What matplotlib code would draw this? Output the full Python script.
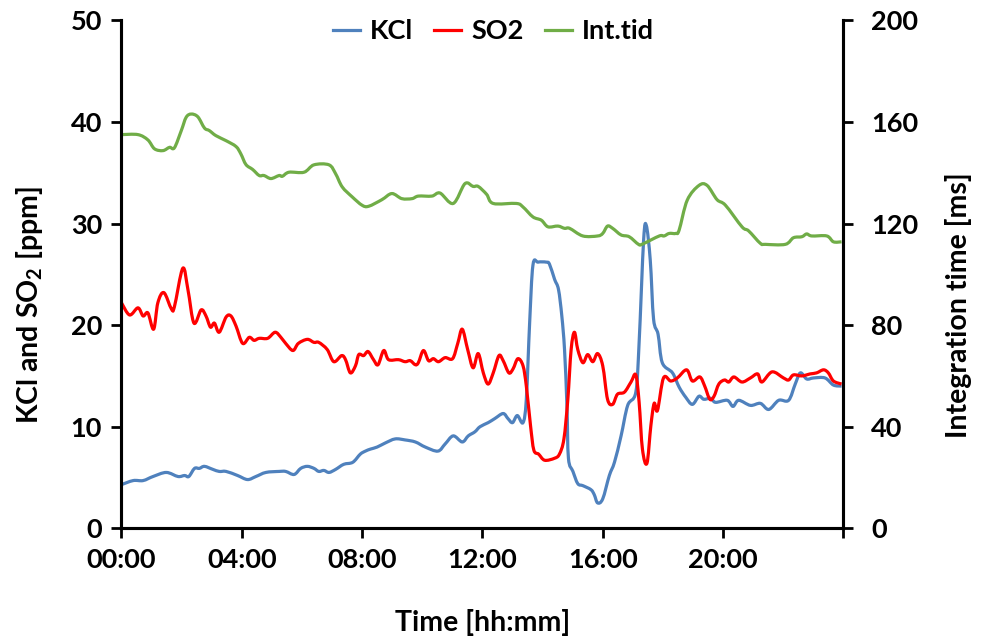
import numpy as np
import matplotlib
matplotlib.use("Agg")
import matplotlib.pyplot as plt
from matplotlib.path import Path
from matplotlib.patches import PathPatch
from matplotlib.lines import Line2D

plt.rcParams['font.family'] = ['Lato', 'DejaVu Sans']
plt.rcParams['font.weight'] = 'bold'
plt.rcParams['axes.labelweight'] = 'bold'
plt.rcParams['mathtext.fontset'] = 'custom'
plt.rcParams['mathtext.rm'] = 'Lato:bold'
plt.rcParams['mathtext.it'] = 'Lato:bold:italic'
plt.rcParams['mathtext.bf'] = 'Lato:bold'

# Time of day in hours, and the measured series
kcl_t = [0.00, 0.39, 0.72, 1.05, 1.49, 1.88, 2.10, 2.24, 2.43, 2.59, 2.76, 3.04, 3.25, 3.48,
         3.86, 4.19, 4.47, 4.80, 5.24, 5.46, 5.74, 5.96, 6.18, 6.40, 6.56, 6.73, 6.90, 7.12,
         7.39, 7.69, 7.94, 8.11, 8.28, 8.50, 8.77, 9.10, 9.43, 9.77, 10.10, 10.52, 10.76,
         11.03, 11.33, 11.53, 11.75, 11.92, 12.19, 12.41, 12.69, 12.85, 13.00, 13.16, 13.35,
         13.46, 13.57, 13.68, 13.85, 14.12, 14.23, 14.40, 14.53, 14.64, 14.73, 14.81, 14.86,
         15.01, 15.17, 15.34, 15.61, 15.72, 15.83, 16.00, 16.22, 16.39, 16.61, 16.83, 17.10,
         17.21, 17.36, 17.45, 17.58, 17.69, 17.84, 17.98, 18.32, 18.54, 18.76, 18.98, 19.20,
         19.36, 19.59, 19.75, 20.14, 20.33, 20.52, 20.91, 21.24, 21.52, 21.85, 22.18, 22.40,
         22.57, 22.78, 23.01, 23.39, 23.67, 23.94]
kcl = [4.3, 4.7, 4.7, 5.1, 5.5, 5.1, 5.2, 5.1, 5.9, 5.9, 6.1, 5.8, 5.6, 5.6,
       5.2, 4.8, 5.1, 5.5, 5.6, 5.6, 5.3, 5.9, 6.1, 5.9, 5.6, 5.7, 5.5, 5.8,
       6.3, 6.5, 7.3, 7.6, 7.8, 8.0, 8.4, 8.8, 8.7, 8.5, 8.0, 7.6, 8.3,
       9.1, 8.5, 9.1, 9.5, 10.0, 10.4, 10.8, 11.3, 10.8, 10.4, 11.1, 10.4,
       12.7, 20.2, 25.9, 26.2, 26.2, 26.0, 24.5, 23.5, 20.9, 17.6, 12.1, 6.9,
       5.6, 4.4, 4.2, 3.8, 3.3, 2.5, 2.9, 5.2, 6.5, 9.1, 12.1, 13.4,
       18.3, 28.4, 29.8, 26.4, 20.6, 19.1, 16.3, 15.3, 13.9, 12.9, 12.2, 13.0,
       12.7, 12.8, 12.4, 12.6, 12.0, 12.6, 12.1, 12.3, 11.7, 12.6, 12.6, 14.2,
       15.3, 14.7, 14.8, 14.8, 14.1, 14.0]

so2_t = [0.00, 0.27, 0.55, 0.72, 0.88, 1.07, 1.21, 1.41, 1.66, 1.76, 2.04, 2.21, 2.41, 2.65,
         2.81, 2.96, 3.09, 3.25, 3.48, 3.64, 3.81, 4.03, 4.25, 4.41, 4.58, 4.86, 5.11, 5.30,
         5.46, 5.70, 5.88, 6.18, 6.40, 6.56, 6.84, 7.06, 7.32, 7.45, 7.61, 7.78, 7.89, 8.05,
         8.20, 8.38, 8.53, 8.72, 8.88, 9.21, 9.43, 9.60, 9.77, 9.87, 10.04, 10.21, 10.37,
         10.54, 10.76, 11.01, 11.18, 11.33, 11.51, 11.69, 11.86, 12.03, 12.19, 12.36, 12.55,
         12.69, 12.88, 13.02, 13.18, 13.35, 13.46, 13.60, 13.71, 13.87, 14.07, 14.40, 14.56,
         14.71, 14.84, 14.95, 15.06, 15.17, 15.34, 15.50, 15.67, 15.83, 16.00, 16.16, 16.33,
         16.49, 16.72, 16.94, 17.10, 17.21, 17.32, 17.47, 17.60, 17.71, 17.82, 18.02, 18.26,
         18.48, 18.79, 18.98, 19.23, 19.39, 19.56, 19.70, 19.86, 20.05, 20.19, 20.36, 20.63,
         20.91, 21.15, 21.29, 21.63, 22.01, 22.18, 22.34, 22.62, 22.90, 23.11, 23.34, 23.50,
         23.67, 23.94]
so2 = [22.2, 21.0, 21.7, 20.9, 21.2, 19.6, 22.2, 23.2, 21.6, 21.8, 25.6, 23.5, 20.2, 21.5,
       20.9, 19.8, 20.2, 19.3, 20.8, 20.9, 19.9, 18.2, 18.8, 18.5, 18.7, 18.7, 19.3, 18.8,
       18.2, 17.5, 18.2, 18.6, 18.3, 18.3, 17.6, 16.4, 17.0, 16.6, 15.3, 16.0, 17.1, 17.0,
       17.4, 16.6, 16.1, 17.5, 16.6, 16.6, 16.4, 16.5, 16.1, 16.3, 17.5, 16.5, 16.7,
       16.4, 16.8, 16.7, 18.2, 19.6, 17.6, 15.8, 17.2, 15.3, 14.2, 15.3, 17.0,
       16.5, 15.3, 15.7, 16.7, 16.0, 14.0, 10.1, 7.7, 7.3, 6.7, 6.9, 7.3,
       8.8, 12.7, 17.6, 19.3, 17.6, 16.3, 17.1, 16.4, 17.2, 16.0, 12.7, 12.2,
       13.2, 13.4, 14.4, 15.1, 12.4, 7.8, 6.4, 10.1, 12.3, 11.6, 14.8, 14.5,
       14.8, 15.6, 14.5, 14.9, 14.0, 12.7, 13.0, 14.2, 14.6, 14.4, 14.9, 14.4,
       14.8, 15.2, 14.4, 15.4, 14.8, 14.6, 15.1, 15.0, 15.2, 15.3, 15.6, 15.3,
       14.5, 14.2]

inttid_t = [0.00, 0.55, 0.88, 1.10, 1.38, 1.60, 1.76, 1.99, 2.15, 2.32, 2.54, 2.76, 2.92, 3.14,
            3.48, 3.81, 3.97, 4.14, 4.36, 4.58, 4.74, 4.97, 5.24, 5.35, 5.57, 6.07, 6.40, 6.90,
            7.12, 7.34, 7.67, 8.00, 8.22, 8.66, 8.99, 9.32, 9.66, 9.87, 10.32, 10.59, 11.03,
            11.42, 11.69, 11.86, 12.14, 12.36, 13.13, 13.35, 13.68, 13.96, 14.18, 14.51, 14.73,
            14.90, 15.34, 15.83, 16.00, 16.16, 16.33, 16.61, 16.88, 17.19, 17.32, 17.88, 18.04,
            18.21, 18.43, 18.54, 18.81, 19.20, 19.47, 19.80, 20.08, 20.63, 20.85, 21.24, 21.41,
            22.07, 22.34, 22.62, 22.78, 22.95, 23.45, 23.67, 23.94]
inttid = [155.0, 155.0, 152.9, 149.4, 148.7, 150.0, 149.8, 156.6, 161.8, 163.1, 162.0, 157.6,
          156.6, 154.6, 152.6, 150.3, 147.4, 143.2, 141.3, 138.9, 138.9, 137.7, 138.9, 138.6,
          140.2, 140.2, 143.1, 143.1, 139.6, 134.4, 130.5, 127.2, 126.8, 129.4, 131.8, 129.8,
          129.8, 130.8, 130.8, 132.0, 127.9, 135.7, 134.6, 134.6, 131.5, 127.9, 127.9, 126.5,
          122.6, 121.3, 118.7, 119.0, 118.1, 118.1, 115.1, 115.1, 116.1, 119.0, 118.1, 115.5,
          114.8, 111.8, 111.9, 115.1, 115.1, 116.1, 116.1, 117.4, 129.2, 135.0, 135.0, 129.4,
          127.2, 118.7, 117.1, 112.2, 111.8, 111.8, 114.4, 114.8, 115.9, 115.1, 115.1, 112.8,
          112.8]

x_ticks = [0, 4, 8, 12, 16, 20, 24]
x_tick_labels = ['00:00', '04:00', '08:00', '12:00', '16:00', '20:00', '']
left_ticks = [0, 10, 20, 30, 40, 50]
right_ticks = [0, 40, 80, 120, 160, 200]

BLUE = '#4F81BD'
RED = '#FF0000'
GREEN = '#70AD47'
LW = 2.3
TICK_FS = 19.5
TITLE_FS = 20.5
LEG_FS = 19.5


def smoothed_line(axis, xs, ys, color):
    """Draw a series as a smoothed (Catmull-Rom style Bezier) line through its points."""
    pts = np.column_stack([xs, ys]).astype(float)
    n = len(pts)
    verts = [pts[0]]
    codes = [Path.MOVETO]
    for i in range(n - 1):
        p0 = pts[max(i - 1, 0)]
        p1 = pts[i]
        p2 = pts[i + 1]
        p3 = pts[min(i + 2, n - 1)]
        verts += [p1 + (p2 - p0) / 6.0, p2 - (p3 - p1) / 6.0, p2]
        codes += [Path.CURVE4] * 3
    patch = PathPatch(Path(verts, codes), facecolor='none', edgecolor=color,
                      lw=LW, joinstyle='round', capstyle='butt')
    axis.add_patch(patch)
    return Line2D([], [], color=color, lw=LW)


fig = plt.figure(figsize=(9.81, 6.37), dpi=100)
ax = fig.add_axes([0.1238, 0.1706, 0.7359, 0.7975])
ax2 = ax.twinx()

h1 = smoothed_line(ax, kcl_t, kcl, BLUE)
h2 = smoothed_line(ax, so2_t, so2, RED)
h3 = smoothed_line(ax2, inttid_t, inttid, GREEN)

ax.set_xlim(0, 24)
ax.set_ylim(0, 50)
ax2.set_ylim(0, 200)

ax.set_xticks(x_ticks)
ax.set_xticklabels(x_tick_labels)
ax.set_yticks(left_ticks)
ax2.set_yticks(right_ticks)

for a in (ax, ax2):
    for side in ('left', 'right', 'bottom'):
        a.spines[side].set_linewidth(2.2)
        a.spines[side].set_color('black')
    a.spines['top'].set_visible(False)
    a.tick_params(direction='out', length=7, width=2, colors='black',
                  labelsize=TICK_FS)
ax.tick_params(axis='x', pad=7)
ax.tick_params(axis='y', pad=7)
ax2.tick_params(axis='y', pad=13)

ax.set_xlabel('Time [hh:mm]', fontsize=TITLE_FS, labelpad=27)
ax.set_ylabel(r'KCl and SO$_2$ [ppm]', fontsize=TITLE_FS)
ax2.set_ylabel('Integration time [ms]', fontsize=TITLE_FS)
ax.yaxis.set_label_coords(-0.106, 0.44)
ax2.yaxis.set_label_coords(1.141, 0.44)

ax2.legend(handles=[h1, h2, h3], labels=['KCl', 'SO2', 'Int.tid'],
           loc='upper center', bbox_to_anchor=(0.515, 1.05),
           ncol=3, frameon=False, handlelength=1.0, handletextpad=0.35,
           columnspacing=0.8, prop={'size': LEG_FS, 'weight': 'bold'})

fig.savefig('out.png', dpi=100)
